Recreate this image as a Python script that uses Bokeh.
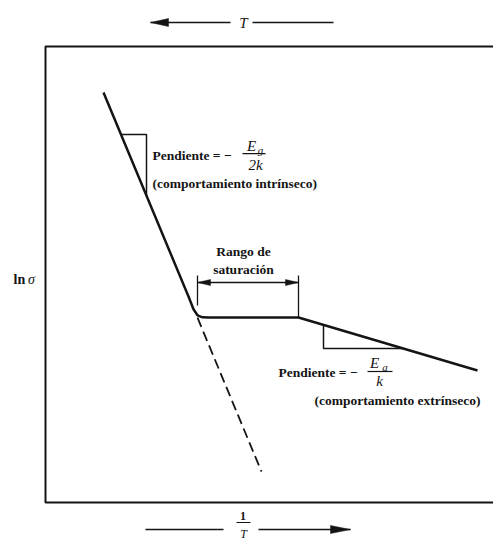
from bokeh.plotting import figure
from bokeh.models import Range1d
from bokeh.core.properties import value
from bokeh.embed import file_html
from bokeh.resources import INLINE

# ln(sigma) versus 1/T for a doped semiconductor (arbitrary units)
inv_T_curve = [5.8, 14.3, 14.8, 15.2, 15.7, 16.3, 25.3, 43.2]
ln_sigma_curve = [10.25, 5.15, 4.83, 4.68, 4.63, 4.625, 4.625, 3.30]

# intrinsic behaviour extrapolated below the saturation range
inv_T_dash = [15.2, 21.6]
ln_sigma_dash = [4.62, 0.77]

# saturation range limits on the 1/T axis
sat_lo, sat_hi = 15.2, 25.3

# slope triangles
intr_tri_x = [7.55, 10.1, 10.1]
intr_tri_y = [9.2, 9.2, 7.67]
extr_tri_x = [27.8, 27.8, 35.8]
extr_tri_y = [4.44, 3.85, 3.85]

# plot box (1/T from 0, ln sigma from 0 to 11.4); open on the right
box_x0, box_y0, box_y1, box_x1 = 0.0, 0.0, 11.4, 47.0

PX_X, PX_Y = 10.0, 40.0  # pixels per data unit

INK = "#141414"
SERIF = value("'Liberation Serif', 'Times New Roman', Times, serif")

p = figure(width=493, height=541, x_range=Range1d(-4.5, 44.8),
           y_range=Range1d(-0.975, 12.55), min_border=0,
           toolbar_location=None, output_backend="svg")
p.axis.visible = False
p.grid.visible = False
p.outline_line_color = None
p.background_fill_color = "white"
p.border_fill_color = "white"

# box: left, top and bottom sides
p.line([box_x1, box_x0, box_x0, box_x1], [box_y1, box_y1, box_y0, box_y0],
       line_color=INK, line_width=2)

# main curve and dashed extrapolation
p.line(inv_T_curve, ln_sigma_curve, line_color=INK, line_width=2.5,
       line_join="round")
p.line(inv_T_dash, ln_sigma_dash, line_color=INK, line_width=1.8,
       line_dash="10 5")

# slope triangles
p.line(intr_tri_x, intr_tri_y, line_color=INK, line_width=1.5)
p.line(extr_tri_x, extr_tri_y, line_color=INK, line_width=1.5)


def head(tip_x, tip_y, direction, length_px, half_w_px):
    base = tip_x - direction * length_px / PX_X
    return ([tip_x, base, base], [tip_y, tip_y + half_w_px / PX_Y, tip_y - half_w_px / PX_Y])


def label(x, y, s, size, style="bold", align="left"):
    p.text(x=[x], y=[y], text=[s], text_font=SERIF, text_font_style=style,
           text_font_size=value(size), text_align=align, text_baseline="middle",
           text_color=INK)


# saturation range bracket
p.segment(x0=[sat_lo, sat_hi], y0=[5.675, 5.675], x1=[sat_lo, sat_hi],
          y1=[4.925, 4.625], line_color=INK, line_width=1.3)
p.segment(x0=[sat_lo], y0=[5.5], x1=[sat_hi], y1=[5.5], line_color=INK, line_width=1.3)
hl = head(sat_lo, 5.5, -1, 13, 3)
hr = head(sat_hi, 5.5, 1, 13, 3)
p.patches([hl[0], hr[0]], [hl[1], hr[1]], fill_color=INK, line_color=INK, line_width=0.5)

# T arrow above the box
p.segment(x0=[10.5, 20.7], y0=[12.0, 12.0], x1=[18.5, 28.8], y1=[12.0, 12.0],
          line_color=INK, line_width=1.6)
ht = head(10.5, 12.0, -1, 18, 4)
p.patch(ht[0], ht[1], fill_color=INK, line_color=INK, line_width=0.5)
label(19.8, 12.0, "T", "15px", "italic", "center")

# 1/T arrow below the box
p.segment(x0=[10.0, 21.3], y0=[-0.675, -0.675], x1=[17.8, 30.5], y1=[-0.675, -0.675],
          line_color=INK, line_width=1.6)
hb = head(30.5, -0.675, 1, 20, 4)
p.patch(hb[0], hb[1], fill_color=INK, line_color=INK, line_width=0.5)
p.segment(x0=[19.1], y0=[-0.5], x1=[20.5], y1=[-0.5], line_color=INK, line_width=1.2)
label(19.75, -0.33, "1", "12px", "bold", "center")
label(19.8, -0.78, "T", "12px", "italic", "center")

# y label
label(-3.2, 5.575, "ln", "14px", "bold")
label(-1.75, 5.575, "σ", "14px", "italic")

# saturation label
label(19.8, 6.28, "Rango de", "13.5px", "bold", "center")
label(19.8, 5.82, "saturación", "13.5px", "bold", "center")

# intrinsic slope label
label(10.7, 8.68, "Pendiente = −", "13.5px")
p.segment(x0=[19.7], y0=[8.72], x1=[22.0], y1=[8.72], line_color=INK, line_width=1.2)
label(20.6, 8.92, "E", "15px", "italic", "center")
label(21.5, 8.82, "g", "11px", "italic", "center")
label(21.0, 8.45, "2k", "15px", "italic", "center")
label(10.7, 7.97, "(comportamiento intrínseco)", "13.5px")

# extrinsic slope label
label(23.3, 3.25, "Pendiente = −", "13.5px")
p.segment(x0=[32.2], y0=[3.275], x1=[34.7], y1=[3.275], line_color=INK, line_width=1.2)
label(32.9, 3.5, "E", "15px", "italic", "center")
label(33.95, 3.38, "a", "11px", "italic", "center")
label(33.4, 3.03, "k", "15px", "italic", "center")
label(35.2, 2.55, "(comportamiento extrínseco)", "13.5px", "bold", "center")

open("out.html", "w").write(file_html(p, INLINE))
